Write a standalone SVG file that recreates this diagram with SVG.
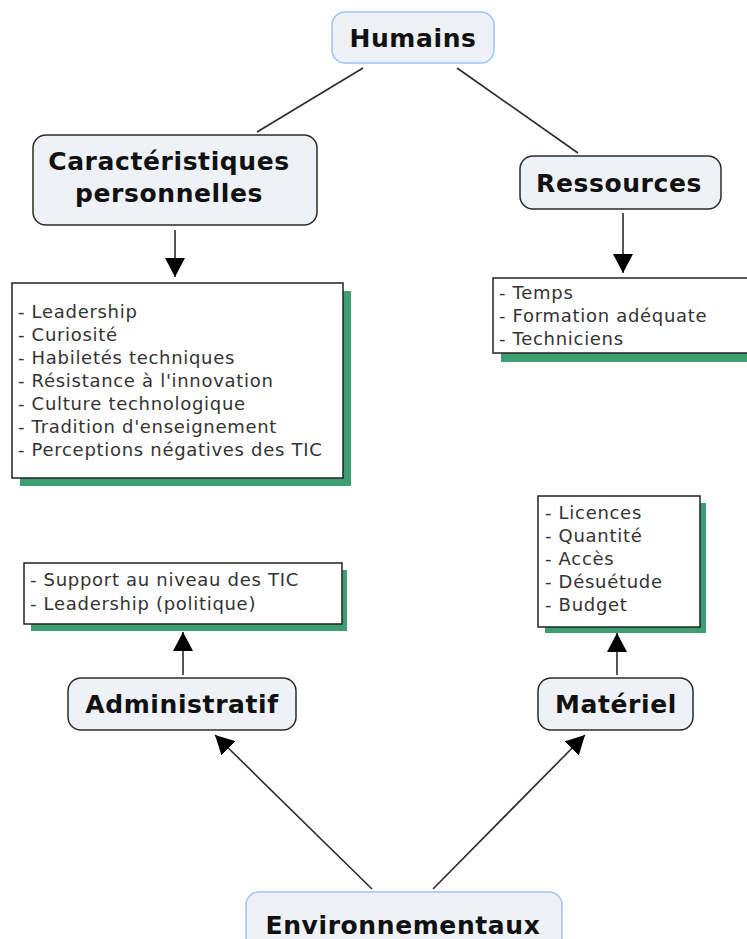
<svg xmlns="http://www.w3.org/2000/svg" width="747" height="939" viewBox="0 0 747 939">
  <style>
    .concept rect { fill: #eef1f6; stroke: #2b2b2b; stroke-width: 1.5; }
    .concept.root rect { stroke: #9cc6f2; }
    .concept text { font-family: "DejaVu Sans", Verdana, sans-serif; font-weight: bold; font-size: 25px; letter-spacing: 0.6px; fill: #111; text-anchor: middle; }
    .list .shadow { fill: #3d9e72; }
    .list .card { fill: #ffffff; stroke: #222; stroke-width: 1.5; }
    .list text { font-family: "DejaVu Sans", Verdana, sans-serif; font-size: 18px; letter-spacing: 0.7px; fill: #333; }
    .links line { stroke: #2b2b2b; stroke-width: 1.6; }
  </style>
  <defs>
    <marker id="head" markerUnits="userSpaceOnUse" markerWidth="20" markerHeight="20" refX="19" refY="10" orient="auto">
      <path d="M0,0 L19,10 L0,20 z" fill="#000"/>
    </marker>
  </defs>

  <rect width="747" height="939" fill="#ffffff"/>

  <!-- connectors -->
  <g class="links">
    <line x1="363" y1="68" x2="257" y2="132"/>
    <line x1="457" y1="68" x2="578" y2="153"/>
    <line x1="175" y1="230" x2="175" y2="277" marker-end="url(#head)"/>
    <line x1="623" y1="213" x2="623" y2="273" marker-end="url(#head)"/>
    <line x1="183" y1="675" x2="183" y2="632" marker-end="url(#head)"/>
    <line x1="617" y1="675" x2="617" y2="633" marker-end="url(#head)"/>
    <line x1="372" y1="889" x2="215" y2="735" marker-end="url(#head)"/>
    <line x1="433" y1="889" x2="585" y2="735" marker-end="url(#head)"/>
  </g>

  <!-- concepts -->
  <g id="humains" class="concept root">
    <rect x="332" y="12" width="162" height="51" rx="13"/>
    <text x="413" y="47">Humains</text>
  </g>
  <g id="caracteristiques" class="concept">
    <rect x="33" y="135" width="284" height="90" rx="13"/>
    <text x="169" y="170">Caractéristiques</text>
    <text x="169" y="202">personnelles</text>
  </g>
  <g id="ressources" class="concept">
    <rect x="520" y="156" width="201" height="53" rx="13"/>
    <text x="619" y="192">Ressources</text>
  </g>
  <g id="administratif" class="concept">
    <rect x="68" y="678" width="228" height="52" rx="13"/>
    <text x="182" y="713">Administratif</text>
  </g>
  <g id="materiel" class="concept">
    <rect x="538" y="678" width="155" height="52" rx="13"/>
    <text x="616" y="713">Matériel</text>
  </g>
  <g id="environnementaux" class="concept root">
    <rect x="246" y="892" width="316" height="60" rx="13"/>
    <text x="403" y="934">Environnementaux</text>
  </g>

  <!-- detail lists -->
  <g id="liste-caracteristiques" class="list">
    <rect class="shadow" x="20" y="291" width="331" height="195"/>
    <rect class="card" x="12" y="283" width="331" height="195"/>
    <text x="18" y="318">- Leadership</text>
    <text x="18" y="341">- Curiosité</text>
    <text x="18" y="364">- Habiletés techniques</text>
    <text x="18" y="387">- Résistance à l'innovation</text>
    <text x="18" y="410">- Culture technologique</text>
    <text x="18" y="433">- Tradition d'enseignement</text>
    <text x="18" y="456">- Perceptions négatives des TIC</text>
  </g>
  <g id="liste-ressources" class="list">
    <rect class="shadow" x="501" y="286" width="260" height="76"/>
    <rect class="card" x="493" y="278" width="260" height="75"/>
    <text x="499" y="299">- Temps</text>
    <text x="499" y="322">- Formation adéquate</text>
    <text x="499" y="345">- Techniciens</text>
  </g>
  <g id="liste-administratif" class="list">
    <rect class="shadow" x="31" y="570" width="316" height="61"/>
    <rect class="card" x="24" y="563" width="318" height="61"/>
    <text x="30" y="586">- Support au niveau des TIC</text>
    <text x="30" y="610">- Leadership (politique)</text>
  </g>
  <g id="liste-materiel" class="list">
    <rect class="shadow" x="545" y="503" width="161" height="130"/>
    <rect class="card" x="538" y="496" width="162" height="131"/>
    <text x="545" y="519">- Licences</text>
    <text x="545" y="542">- Quantité</text>
    <text x="545" y="565">- Accès</text>
    <text x="545" y="588">- Désuétude</text>
    <text x="545" y="611">- Budget</text>
  </g>
</svg>
